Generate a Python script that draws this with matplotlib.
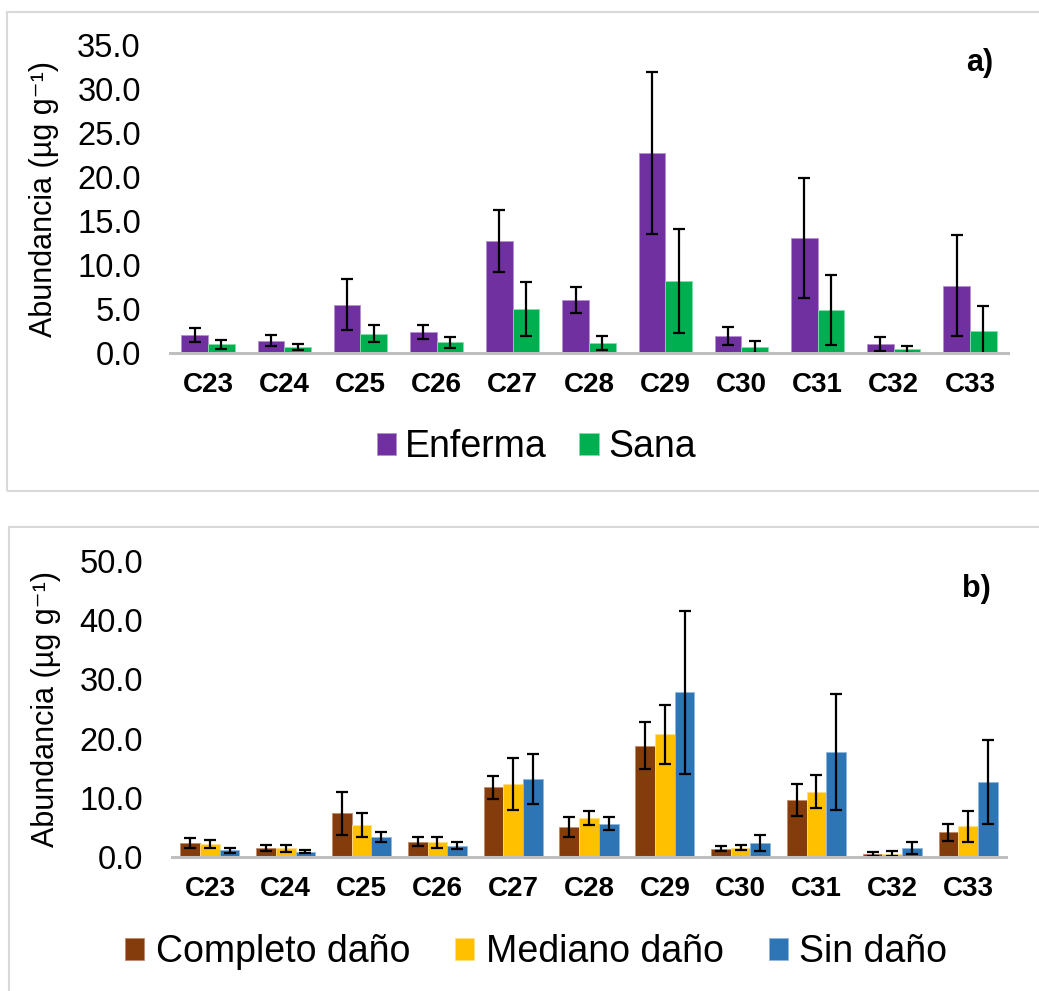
import numpy as np
import matplotlib.pyplot as plt
from matplotlib.patches import Rectangle

# Chain lengths (n-alkanes)
categories = ['C23', 'C24', 'C25', 'C26', 'C27', 'C28', 'C29', 'C30', 'C31', 'C32', 'C33']

# Panel a) - health status
enferma = [2.05, 1.4, 5.5, 2.4, 12.7, 6.0, 22.75, 1.9, 13.1, 1.0, 7.65]
enferma_err = [0.8, 0.6, 2.9, 0.8, 3.5, 1.45, 9.2, 1.0, 6.8, 0.8, 5.75]
sana = [1.0, 0.7, 2.2, 1.2, 5.0, 1.1, 8.2, 0.65, 4.9, 0.4, 2.5]
sana_err = [0.5, 0.35, 1.0, 0.6, 3.1, 0.8, 5.9, 0.7, 4.0, 0.45, 2.8]

# Panel b) - damage level
completo = [2.4, 1.55, 7.35, 2.6, 11.8, 5.0, 18.8, 1.4, 9.6, 0.45, 4.15]
completo_err = [0.8, 0.55, 3.55, 0.7, 1.95, 1.7, 4.0, 0.45, 2.65, 0.35, 1.5]
mediano = [2.2, 1.45, 5.4, 2.45, 12.4, 6.6, 20.7, 1.55, 11.05, 0.55, 5.2]
mediano_err = [0.7, 0.6, 2.1, 0.9, 4.4, 1.2, 5.0, 0.45, 2.85, 0.4, 2.6]
sin = [1.1, 0.85, 3.35, 1.9, 13.2, 5.65, 27.8, 2.4, 17.8, 1.5, 12.7]
sin_err = [0.35, 0.25, 0.9, 0.55, 4.2, 1.15, 13.8, 1.4, 9.8, 1.0, 7.1]

W, H = 1039, 991
plt.rcParams['font.family'] = ['Liberation Sans', 'DejaVu Sans']
fig = plt.figure(figsize=(W / 100, H / 100), dpi=100)


def px_axes(left, top, right, bottom):
    """Axes placed with pixel coordinates (origin top-left)."""
    return fig.add_axes([left / W, 1 - bottom / H, (right - left) / W, (bottom - top) / H])


def style_axes(ax, ymax, step):
    ticks = np.arange(0, ymax + 0.01, step)
    ax.set_xlim(-0.5, len(categories) - 0.5)
    ax.set_ylim(0, ymax)
    ax.set_yticks(ticks)
    ax.set_yticklabels([f'{v:.1f}' for v in ticks])
    ax.set_xticks(np.arange(len(categories)))
    ax.set_xticklabels(categories, fontweight='bold', fontsize=20)
    for s in ['top', 'right', 'left']:
        ax.spines[s].set_visible(False)
    ax.spines['bottom'].set_color('#bfbfbf')
    ax.spines['bottom'].set_linewidth(2.2)
    ax.tick_params(axis='x', length=0, pad=14)
    ax.tick_params(axis='y', length=0, pad=21, labelsize=23.5)
    ax.set_ylabel('Abundancia (µg g⁻¹)', fontsize=22, labelpad=13)


err_kw = dict(ecolor='black', elinewidth=1.6, capsize=4, capthick=1.6)
x = np.arange(len(categories))

# panel borders (right/bottom edges run off the image)
fig.patches.append(Rectangle((7 / W, 1 - 490.5 / H), 1060 / W, 478.5 / H, transform=fig.transFigure,
                             fill=False, edgecolor='#d9d9d9', linewidth=1.5))
fig.patches.append(Rectangle((8.5 / W, 1 - 1010 / H), 1060 / W, 483 / H, transform=fig.transFigure,
                             fill=False, edgecolor='#d9d9d9', linewidth=1.5))

# ---- a) ----
ax1 = px_axes(170, 45, 1008, 353)
w = 0.35
b1 = ax1.bar(x - w / 2, enferma, w, yerr=enferma_err, color='#7030A0', edgecolor='#b48fd0',
             linewidth=0.6, error_kw=err_kw, label='Enferma')
b2 = ax1.bar(x + w / 2, sana, w, yerr=sana_err, color='#00B050', edgecolor='#7fe0a8',
             linewidth=0.6, error_kw=err_kw, label='Sana')
style_axes(ax1, 35, 5)
ax1.text(0.982, 0.94, 'a)', transform=ax1.transAxes, ha='right', va='center',
         fontsize=22, fontweight='bold')
fig.legend(handles=[b1, b2], loc='center', bbox_to_anchor=(536 / W, 1 - 447 / H), ncol=2,
           frameon=False, fontsize=27, handlelength=0.52, handleheight=0.52,
           handletextpad=0.25, columnspacing=0.85)

# ---- b) ----
ax2 = px_axes(172, 561, 1006, 857)
w = 0.26
c1 = ax2.bar(x - w, completo, w, yerr=completo_err, color='#843C0C', edgecolor='#c08a6a',
             linewidth=0.6, error_kw=err_kw, label='Completo daño')
c2 = ax2.bar(x, mediano, w, yerr=mediano_err, color='#FFC000', edgecolor='#ffe080',
             linewidth=0.6, error_kw=err_kw, label='Mediano daño')
c3 = ax2.bar(x + w, sin, w, yerr=sin_err, color='#2E75B6', edgecolor='#8fb8de',
             linewidth=0.6, error_kw=err_kw, label='Sin daño')
style_axes(ax2, 50, 10)
ax2.text(0.982, 0.905, 'b)', transform=ax2.transAxes, ha='right', va='center',
         fontsize=22, fontweight='bold')
fig.legend(handles=[c1, c2, c3], loc='center', bbox_to_anchor=(536 / W, 1 - 952 / H), ncol=3,
           frameon=False, fontsize=27, handlelength=0.52, handleheight=0.52,
           handletextpad=0.3, columnspacing=1.2)

fig.savefig('out.png', dpi=100)
